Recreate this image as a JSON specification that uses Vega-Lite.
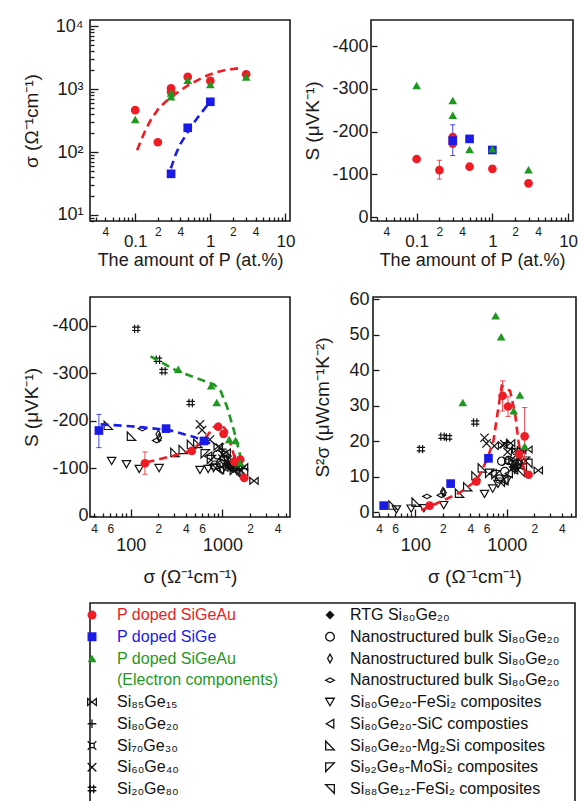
{
  "$schema": "https://vega.github.io/schema/vega-lite/v6.json",
  "padding": {"left": 21, "top": 16, "right": 0, "bottom": 0},
  "config": {
    "font": "Liberation Sans",
    "view": {"stroke": "#1a1a1a", "strokeWidth": 1.6},
    "axis": {"grid": false, "domain": false, "tickColor": "#1a1a1a", "tickWidth": 1.3, "labelColor": "#1a1a1a", "titleColor": "#1a1a1a", "labelFont": "Liberation Sans", "titleFont": "Liberation Sans", "titleFontWeight": "normal", "labelOverlap": false, "labelFlush": false, "labelBound": false, "titleFontSize": 19}
  },
  "datasets": {
    "samples": [
      {"cat": "SiGeAu", "P": 0.1, "sigma": 464, "S": -136, "PF": 8.7},
      {"cat": "SiGeAu", "P": 0.2, "sigma": 143, "S": -110, "PF": 1.9},
      {"cat": "SiGeAu", "P": 0.3, "sigma": 1030, "S": -172, "PF": 29.8},
      {"cat": "SiGeAu", "P": 0.3, "sigma": 900, "S": -187, "PF": 32.8},
      {"cat": "SiGeAu", "P": 0.3, "sigma": null, "S": -179, "PF": null},
      {"cat": "SiGeAu", "P": 0.5, "sigma": 1567, "S": -118, "PF": 21.4},
      {"cat": "SiGeAu", "P": 1, "sigma": 1355, "S": -113, "PF": 16.4},
      {"cat": "SiGeAu", "P": 3, "sigma": 1730, "S": -79, "PF": 10.6},
      {"cat": "SiGe", "P": 0.3, "sigma": 45, "S": -179, "PF": 1.9},
      {"cat": "SiGe", "P": 0.5, "sigma": 243, "S": -183, "PF": 8.1},
      {"cat": "SiGe", "P": 1, "sigma": 630, "S": -157, "PF": 15.2},
      {"cat": "SiGeAuE", "P": 0.1, "sigma": 330, "S": -308, "PF": 30.9},
      {"cat": "SiGeAuE", "P": 0.3, "sigma": 755, "S": -273, "PF": 55.3},
      {"cat": "SiGeAuE", "P": 0.3, "sigma": 867, "S": -238, "PF": 49.4},
      {"cat": "SiGeAuE", "P": 0.5, "sigma": 1390, "S": -158, "PF": 33},
      {"cat": "SiGeAuE", "P": 1, "sigma": 1188, "S": -160, "PF": 28.6},
      {"cat": "SiGeAuE", "P": 3, "sigma": 1567, "S": -111, "PF": 18.6}
    ],
    "errs": [
      {"panel": "b", "cat": "SiGeAu", "P": 0.2, "S": -133, "hi": -89},
      {"panel": "b", "cat": "SiGe", "P": 0.3, "S": -216, "hi": -144},
      {"panel": "c", "cat": "SiGe", "sigma": 45, "S": -213, "hi": -143},
      {"panel": "c", "cat": "SiGeAu", "sigma": 143, "S": -134, "hi": -87},
      {"panel": "d", "cat": "SiGeAu", "sigma": 900, "PF": 28.5, "hi": 37},
      {"panel": "d", "cat": "SiGeAu", "sigma": 1030, "PF": 27, "hi": 32.5},
      {"panel": "d", "cat": "SiGeAu", "sigma": 1567, "PF": 13.5, "hi": 29.5}
    ],
    "fits": [
      {"panel": "a", "cat": "SiGeAu", "P": 0.106, "sigma": 107},
      {"panel": "a", "cat": "SiGeAu", "P": 0.12, "sigma": 155},
      {"panel": "a", "cat": "SiGeAu", "P": 0.137, "sigma": 224},
      {"panel": "a", "cat": "SiGeAu", "P": 0.16, "sigma": 320},
      {"panel": "a", "cat": "SiGeAu", "P": 0.205, "sigma": 494},
      {"panel": "a", "cat": "SiGeAu", "P": 0.25, "sigma": 620},
      {"panel": "a", "cat": "SiGeAu", "P": 0.306, "sigma": 755},
      {"panel": "a", "cat": "SiGeAu", "P": 0.4, "sigma": 960},
      {"panel": "a", "cat": "SiGeAu", "P": 0.51, "sigma": 1157},
      {"panel": "a", "cat": "SiGeAu", "P": 0.7, "sigma": 1420},
      {"panel": "a", "cat": "SiGeAu", "P": 0.93, "sigma": 1668},
      {"panel": "a", "cat": "SiGeAu", "P": 1.2, "sigma": 1850},
      {"panel": "a", "cat": "SiGeAu", "P": 1.54, "sigma": 2003},
      {"panel": "a", "cat": "SiGeAu", "P": 2.0, "sigma": 2100},
      {"panel": "a", "cat": "SiGeAu", "P": 2.69, "sigma": 2180},
      {"panel": "a", "cat": "SiGe", "P": 0.298, "sigma": 55},
      {"panel": "a", "cat": "SiGe", "P": 0.35, "sigma": 95},
      {"panel": "a", "cat": "SiGe", "P": 0.4, "sigma": 135},
      {"panel": "a", "cat": "SiGe", "P": 0.459, "sigma": 175},
      {"panel": "a", "cat": "SiGe", "P": 0.55, "sigma": 250},
      {"panel": "a", "cat": "SiGe", "P": 0.69, "sigma": 363},
      {"panel": "a", "cat": "SiGe", "P": 0.85, "sigma": 500},
      {"panel": "a", "cat": "SiGe", "P": 1.01, "sigma": 630},
      {"panel": "c", "cat": "SiGe", "sigma": 47, "S": -192},
      {"panel": "c", "cat": "SiGe", "sigma": 100, "S": -188},
      {"panel": "c", "cat": "SiGe", "sigma": 262, "S": -180},
      {"panel": "c", "cat": "SiGe", "sigma": 500, "S": -165},
      {"panel": "c", "cat": "SiGe", "sigma": 658, "S": -155},
      {"panel": "c", "cat": "SiGe", "sigma": 810, "S": -150},
      {"panel": "c", "cat": "SiGeAu", "sigma": 149, "S": -112},
      {"panel": "c", "cat": "SiGeAu", "sigma": 292, "S": -126},
      {"panel": "c", "cat": "SiGeAu", "sigma": 443, "S": -136},
      {"panel": "c", "cat": "SiGeAu", "sigma": 619, "S": -157},
      {"panel": "c", "cat": "SiGeAu", "sigma": 795, "S": -185},
      {"panel": "c", "cat": "SiGeAu", "sigma": 942, "S": -195},
      {"panel": "c", "cat": "SiGeAu", "sigma": 1114, "S": -178},
      {"panel": "c", "cat": "SiGeAu", "sigma": 1263, "S": -143},
      {"panel": "c", "cat": "SiGeAu", "sigma": 1432, "S": -108},
      {"panel": "c", "cat": "SiGeAuE", "sigma": 165, "S": -335},
      {"panel": "c", "cat": "SiGeAuE", "sigma": 323, "S": -304},
      {"panel": "c", "cat": "SiGeAuE", "sigma": 600, "S": -285},
      {"panel": "c", "cat": "SiGeAuE", "sigma": 809, "S": -276},
      {"panel": "c", "cat": "SiGeAuE", "sigma": 957, "S": -262},
      {"panel": "c", "cat": "SiGeAuE", "sigma": 1133, "S": -227},
      {"panel": "c", "cat": "SiGeAuE", "sigma": 1339, "S": -178},
      {"panel": "c", "cat": "SiGeAuE", "sigma": 1585, "S": -122},
      {"panel": "d", "cat": "SiGeAu", "sigma": 116, "PF": 0.6},
      {"panel": "d", "cat": "SiGeAu", "sigma": 200, "PF": 3.3},
      {"panel": "d", "cat": "SiGeAu", "sigma": 309, "PF": 5.6},
      {"panel": "d", "cat": "SiGeAu", "sigma": 462, "PF": 8.9},
      {"panel": "d", "cat": "SiGeAu", "sigma": 512, "PF": 10.8},
      {"panel": "d", "cat": "SiGeAu", "sigma": 621, "PF": 15.5},
      {"panel": "d", "cat": "SiGeAu", "sigma": 714, "PF": 20.1},
      {"panel": "d", "cat": "SiGeAu", "sigma": 809, "PF": 29.5},
      {"panel": "d", "cat": "SiGeAu", "sigma": 881, "PF": 35.6},
      {"panel": "d", "cat": "SiGeAu", "sigma": 1086, "PF": 34.2},
      {"panel": "d", "cat": "SiGeAu", "sigma": 1233, "PF": 27.7},
      {"panel": "d", "cat": "SiGeAu", "sigma": 1340, "PF": 20.1},
      {"panel": "d", "cat": "SiGeAu", "sigma": 1459, "PF": 13.6},
      {"panel": "d", "cat": "SiGeAu", "sigma": 1653, "PF": 10.8}
    ],
    "refs": [
      {"cat": "Si85Ge15", "sigma": 2210, "S": -73, "PF": 11.8},
      {"cat": "Si85Ge15", "sigma": 1700, "S": -102, "PF": 17.7},
      {"cat": "Si85Ge15", "sigma": 1450, "S": -110, "PF": 17.5},
      {"cat": "Si85Ge15", "sigma": 1250, "S": -118, "PF": 17.4},
      {"cat": "Si85Ge15", "sigma": 1100, "S": -133, "PF": 19.5},
      {"cat": "Si85Ge15", "sigma": 900, "S": -145, "PF": 18.9},
      {"cat": "Si80Ge20", "sigma": 1000, "S": -140, "PF": 19.6},
      {"cat": "Si80Ge20", "sigma": 1150, "S": -125, "PF": 18},
      {"cat": "Si80Ge20", "sigma": 1300, "S": -112, "PF": 16.3},
      {"cat": "Si70Ge30", "sigma": 1200, "S": -108, "PF": 14},
      {"cat": "Si70Ge30", "sigma": 1400, "S": -100, "PF": 14},
      {"cat": "Si70Ge30", "sigma": 1000, "S": -120, "PF": 14.4},
      {"cat": "Si60Ge40", "sigma": 570, "S": -192, "PF": 21},
      {"cat": "Si60Ge40", "sigma": 600, "S": -180, "PF": 19.4},
      {"cat": "Si60Ge40", "sigma": 730, "S": -160, "PF": 18.7},
      {"cat": "Si60Ge40", "sigma": 940, "S": -143, "PF": 19.2},
      {"cat": "Si60Ge40", "sigma": 1020, "S": -129, "PF": 17},
      {"cat": "Si60Ge40", "sigma": 1110, "S": -115, "PF": 14.7},
      {"cat": "Si60Ge40", "sigma": 1300, "S": -105, "PF": 14.3},
      {"cat": "Si20Ge80", "sigma": 115, "S": -393, "PF": 17.8},
      {"cat": "Si20Ge80", "sigma": 198, "S": -328, "PF": 21.3},
      {"cat": "Si20Ge80", "sigma": 228, "S": -304, "PF": 21.1},
      {"cat": "Si20Ge80", "sigma": 451, "S": -237, "PF": 25.3},
      {"cat": "RTG", "sigma": 1163, "S": -105, "PF": 12.8},
      {"cat": "RTG", "sigma": 1250, "S": -100, "PF": 12.5},
      {"cat": "NanoO", "sigma": 830, "S": -106, "PF": 9.4},
      {"cat": "NanoO", "sigma": 950, "S": -110, "PF": 11.5},
      {"cat": "NanoO", "sigma": 1050, "S": -118, "PF": 14.6},
      {"cat": "NanoO", "sigma": 880, "S": -128, "PF": 14.4},
      {"cat": "NanoD", "sigma": 200, "S": -171, "PF": 5.85},
      {"cat": "NanoD", "sigma": 205, "S": -164, "PF": 5.5},
      {"cat": "NanoF", "sigma": 134, "S": -183, "PF": 4.5},
      {"cat": "NanoF", "sigma": 192, "S": -158, "PF": 4.8},
      {"cat": "FeSi2", "sigma": 62, "S": -115, "PF": 0.82},
      {"cat": "FeSi2", "sigma": 90, "S": -108, "PF": 1.05},
      {"cat": "FeSi2", "sigma": 124, "S": -98, "PF": 1.19},
      {"cat": "FeSi2", "sigma": 204, "S": -100, "PF": 2.04},
      {"cat": "FeSi2", "sigma": 570, "S": -96, "PF": 5.2},
      {"cat": "FeSi2", "sigma": 700, "S": -98, "PF": 6.7},
      {"cat": "FeSi2", "sigma": 800, "S": -100, "PF": 8},
      {"cat": "FeSi2", "sigma": 1000, "S": -95, "PF": 9},
      {"cat": "SiC", "sigma": 942, "S": -97, "PF": 8.9},
      {"cat": "SiC", "sigma": 1200, "S": -100, "PF": 12},
      {"cat": "SiC", "sigma": 1300, "S": -105, "PF": 14.3},
      {"cat": "SiC", "sigma": 700, "S": -125, "PF": 10.9},
      {"cat": "SiC", "sigma": 1050, "S": -102, "PF": 10.9},
      {"cat": "SiC", "sigma": 1500, "S": -92, "PF": 12.7},
      {"cat": "Mg2Si", "sigma": 57, "S": -190, "PF": 2.06},
      {"cat": "Mg2Si", "sigma": 102, "S": -167, "PF": 2.85},
      {"cat": "Mg2Si", "sigma": 304, "S": -133, "PF": 5.4},
      {"cat": "Mg2Si", "sigma": 374, "S": -139, "PF": 7.2},
      {"cat": "Mg2Si", "sigma": 460, "S": -150, "PF": 10.3},
      {"cat": "Mg2Si", "sigma": 540, "S": -152, "PF": 12.5},
      {"cat": "MoSi2", "sigma": 650, "S": -130, "PF": 11},
      {"cat": "MoSi2", "sigma": 760, "S": -118, "PF": 10.6},
      {"cat": "MoSi2", "sigma": 1350, "S": -95, "PF": 12.2},
      {"cat": "MoSi2", "sigma": 1600, "S": -95, "PF": 14.4},
      {"cat": "Si88FeSi2", "sigma": 1400, "S": -90, "PF": 11.3},
      {"cat": "Si88FeSi2", "sigma": 850, "S": -100, "PF": 8.5},
      {"cat": "Si88FeSi2", "sigma": 1700, "S": -90, "PF": 13.8}
    ],
    "legend": [
      {"c": 0, "r": 0, "cat": "SiGeAu", "text": "P doped SiGeAu", "sym": 1},
      {"c": 0, "r": 1, "cat": "SiGe", "text": "P doped SiGe", "sym": 1},
      {"c": 0, "r": 2, "cat": "SiGeAuE", "text": "P doped SiGeAu", "sym": 1},
      {"c": 0, "r": 3, "cat": "SiGeAuE", "text": "(Electron components)", "sym": 0},
      {"c": 0, "r": 4, "cat": "Si85Ge15", "text": "Si₈₅Ge₁₅", "sym": 1},
      {"c": 0, "r": 5, "cat": "Si80Ge20", "text": "Si₈₀Ge₂₀", "sym": 1},
      {"c": 0, "r": 6, "cat": "Si70Ge30", "text": "Si₇₀Ge₃₀", "sym": 1},
      {"c": 0, "r": 7, "cat": "Si60Ge40", "text": "Si₆₀Ge₄₀", "sym": 1},
      {"c": 0, "r": 8, "cat": "Si20Ge80", "text": "Si₂₀Ge₈₀", "sym": 1},
      {"c": 1, "r": 0, "cat": "RTG", "text": "RTG Si₈₀Ge₂₀", "sym": 1},
      {"c": 1, "r": 1, "cat": "NanoO", "text": "Nanostructured bulk Si₈₀Ge₂₀", "sym": 1},
      {"c": 1, "r": 2, "cat": "NanoD", "text": "Nanostructured bulk Si₈₀Ge₂₀", "sym": 1},
      {"c": 1, "r": 3, "cat": "NanoF", "text": "Nanostructured bulk Si₈₀Ge₂₀", "sym": 1},
      {"c": 1, "r": 4, "cat": "FeSi2", "text": "Si₈₀Ge₂₀-FeSi₂ composites", "sym": 1},
      {"c": 1, "r": 5, "cat": "SiC", "text": "Si₈₀Ge₂₀-SiC composties", "sym": 1},
      {"c": 1, "r": 6, "cat": "Mg2Si", "text": "Si₈₀Ge₂₀-Mg₂Si composites", "sym": 1},
      {"c": 1, "r": 7, "cat": "MoSi2", "text": "Si₉₂Ge₈-MoSi₂ composites", "sym": 1},
      {"c": 1, "r": 8, "cat": "Si88FeSi2", "text": "Si₈₈Ge₁₂-FeSi₂ composites", "sym": 1}
    ]
  },
  "vconcat": [
    {
      "vconcat": [
        {
          "hconcat": [
            {
              "width": 200, "height": 201,
              "encoding": {
                "x": {"field": "P", "type": "quantitative", "scale": {"type": "log", "domain": [0.025, 11.5], "nice": false},
                  "axis": {"title": "The amount of P (at.%)", "titleFontSize": 18, "titlePadding": 2,
                    "values": [0.03,0.04,0.05,0.06,0.07,0.08,0.09,0.1,0.2,0.3,0.4,0.5,0.6,0.7,0.8,0.9,1,2,3,4,5,6,7,8,9,10],
                    "labelExpr": "datum.value == 0.1 ? '0.1' : datum.value == 1 ? '1' : datum.value == 10 ? '10' : (datum.value == 0.04 || datum.value == 0.4 || datum.value == 4) ? '4' : (datum.value == 0.2 || datum.value == 2) ? '2' : ''",
                    "tickSize": {"condition": {"test": "datum.value == 0.1 || datum.value == 1 || datum.value == 10", "value": -8}, "value": -4},
                    "labelFontSize": {"condition": {"test": "datum.value == 0.1 || datum.value == 1 || datum.value == 10", "value": 17}, "value": 12},
                    "labelPadding": {"condition": {"test": "datum.value == 0.1 || datum.value == 1 || datum.value == 10", "value": 20}, "value": 9}}},
                "y": {"field": "sigma", "type": "quantitative", "scale": {"type": "log", "domain": [8, 12600], "nice": false},
                  "axis": {"title": "σ (Ω⁻¹cm⁻¹)", "titlePadding": 14, "labelFontSize": 18,
                    "values": [8,9,10,20,30,40,50,60,70,80,90,100,200,300,400,500,600,700,800,900,1000,2000,3000,4000,5000,6000,7000,8000,9000,10000],
                    "labelExpr": "datum.value == 10 ? '10¹' : datum.value == 100 ? '10²' : datum.value == 1000 ? '10³' : datum.value == 10000 ? '10⁴' : ''",
                    "tickSize": {"condition": {"test": "datum.value == 10 || datum.value == 100 || datum.value == 1000 || datum.value == 10000", "value": -8}, "value": -4},
                    "labelPadding": {"condition": {"test": "datum.value == 10 || datum.value == 100 || datum.value == 1000 || datum.value == 10000", "value": 15}, "value": 11}}},
                "color": {"field": "cat", "type": "nominal", "legend": null,
                  "scale": {"domain": ["SiGeAu","SiGe","SiGeAuE","Si85Ge15","Si80Ge20","Si70Ge30","Si60Ge40","Si20Ge80","RTG","NanoO","NanoD","NanoF","FeSi2","SiC","Mg2Si","MoSi2","Si88FeSi2"],
                    "range": ["#ee1c25","#1b1be8","#1f981f","#111111","#111111","#111111","#111111","#111111","#111111","#111111","#111111","#111111","#111111","#111111","#111111","#111111","#111111"]}}
              },
              "layer": [
                {"data": {"name": "fits"}, "transform": [{"filter": "datum.panel == 'a'"}], "mark": {"type": "line", "strokeDash": [8, 5], "strokeWidth": 2.6}},
                {"data": {"name": "samples"}, "mark": {"type": "point", "filled": true, "opacity": 1, "size": 75},
                  "encoding": {"shape": {"field": "cat", "type": "nominal", "legend": null,
                    "scale": {"domain": ["SiGeAu","SiGe","SiGeAuE","Si85Ge15","Si80Ge20","Si70Ge30","Si60Ge40","Si20Ge80","RTG","NanoO","NanoD","NanoF","FeSi2","SiC","Mg2Si","MoSi2","Si88FeSi2"],
                      "range": ["circle","square","triangle-up","M-1,-0.8L1,0.8L1,-0.8L-1,0.8Z","M-1,0L1,0M0,-1L0,1","M-0.5,-0.5L0.5,-0.5L0.5,0.5L-0.5,0.5Z M-0.5,-0.5L-1,-1 M0.5,-0.5L1,-1 M0.5,0.5L1,1 M-0.5,0.5L-1,1","M-1,-1L1,1M1,-1L-1,1","M-0.4,-1L-0.4,1M0.4,-1L0.4,1M-1,-0.4L1,-0.4M-1,0.4L1,0.4","diamond","circle","M0,-1L0.55,0L0,1L-0.55,0Z","M-1,0L0,-0.55L1,0L0,0.55Z","triangle-down","triangle-left","M-1,-1L-1,1L1,1Z","M-1,-1L1,-1L-1,1Z","M-1,-1L1,-1L1,1Z"]}}}},
                {"data": {"values": [{}]}, "mark": {"type": "text", "fontSize": 20}, "encoding": {"x": {"datum": 5.5}, "y": {"datum": 8000}, "text": {"value": "(a)"}, "color": {"value": "#111111"}}}
              ]
            },
            {
              "width": 202, "height": 201,
              "encoding": {
                "x": {"field": "P", "type": "quantitative", "scale": {"type": "log", "domain": [0.025, 11.6], "nice": false},
                  "axis": {"title": "The amount of P (at.%)", "titleFontSize": 18, "titlePadding": 2,
                    "values": [0.03,0.04,0.05,0.06,0.07,0.08,0.09,0.1,0.2,0.3,0.4,0.5,0.6,0.7,0.8,0.9,1,2,3,4,5,6,7,8,9,10],
                    "labelExpr": "datum.value == 0.1 ? '0.1' : datum.value == 1 ? '1' : datum.value == 10 ? '10' : (datum.value == 0.04 || datum.value == 0.4 || datum.value == 4) ? '4' : (datum.value == 0.2 || datum.value == 2) ? '2' : ''",
                    "tickSize": {"condition": {"test": "datum.value == 0.1 || datum.value == 1 || datum.value == 10", "value": -8}, "value": -4},
                    "labelFontSize": {"condition": {"test": "datum.value == 0.1 || datum.value == 1 || datum.value == 10", "value": 17}, "value": 12},
                    "labelPadding": {"condition": {"test": "datum.value == 0.1 || datum.value == 1 || datum.value == 10", "value": 20}, "value": 9}}},
                "y": {"field": "S", "type": "quantitative", "scale": {"domain": [-461, 9], "reverse": true, "nice": false, "zero": false},
                  "axis": {"title": "S (μVK⁻¹)", "titlePadding": 9, "labelFontSize": 18, "values": [0, -100, -200, -300, -400],
                    "labelExpr": "datum.value < 0 ? '-' + abs(datum.value) : '' + datum.value", "tickSize": -6, "labelPadding": 9}},
                "color": {"field": "cat", "type": "nominal", "legend": null,
                  "scale": {"domain": ["SiGeAu","SiGe","SiGeAuE","Si85Ge15","Si80Ge20","Si70Ge30","Si60Ge40","Si20Ge80","RTG","NanoO","NanoD","NanoF","FeSi2","SiC","Mg2Si","MoSi2","Si88FeSi2"],
                    "range": ["#ee1c25","#1b1be8","#1f981f","#111111","#111111","#111111","#111111","#111111","#111111","#111111","#111111","#111111","#111111","#111111","#111111","#111111","#111111"]}}
              },
              "layer": [
                {"data": {"name": "errs"}, "transform": [{"filter": "datum.panel == 'b'"}], "mark": {"type": "errorbar", "ticks": true, "opacity": 0.8}, "encoding": {"y2": {"field": "hi"}}},
                {"data": {"name": "samples"}, "mark": {"type": "point", "filled": true, "opacity": 1, "size": 75},
                  "encoding": {"shape": {"field": "cat", "type": "nominal", "legend": null,
                    "scale": {"domain": ["SiGeAu","SiGe","SiGeAuE","Si85Ge15","Si80Ge20","Si70Ge30","Si60Ge40","Si20Ge80","RTG","NanoO","NanoD","NanoF","FeSi2","SiC","Mg2Si","MoSi2","Si88FeSi2"],
                      "range": ["circle","square","triangle-up","M-1,-0.8L1,0.8L1,-0.8L-1,0.8Z","M-1,0L1,0M0,-1L0,1","M-0.5,-0.5L0.5,-0.5L0.5,0.5L-0.5,0.5Z M-0.5,-0.5L-1,-1 M0.5,-0.5L1,-1 M0.5,0.5L1,1 M-0.5,0.5L-1,1","M-1,-1L1,1M1,-1L-1,1","M-0.4,-1L-0.4,1M0.4,-1L0.4,1M-1,-0.4L1,-0.4M-1,0.4L1,0.4","diamond","circle","M0,-1L0.55,0L0,1L-0.55,0Z","M-1,0L0,-0.55L1,0L0,0.55Z","triangle-down","triangle-left","M-1,-1L-1,1L1,1Z","M-1,-1L1,-1L-1,1Z","M-1,-1L1,-1L1,1Z"]}}}},
                {"data": {"values": [{}]}, "mark": {"type": "text", "fontSize": 20}, "encoding": {"x": {"datum": 6.4}, "y": {"datum": -414}, "text": {"value": "(b)"}, "color": {"value": "#111111"}}}
              ]
            }
          ],
          "spacing": 7
        },
        {
          "hconcat": [
            {
              "width": 200, "height": 220,
              "encoding": {
                "x": {"field": "sigma", "type": "quantitative", "scale": {"type": "log", "domain": [36, 5460], "nice": false},
                  "axis": {"title": "σ (Ω⁻¹cm⁻¹)", "titlePadding": 13,
                    "values": [40,50,60,70,80,90,100,200,300,400,500,600,700,800,900,1000,2000,3000,4000,5000],
                    "labelExpr": "datum.value == 100 ? '100' : datum.value == 1000 ? '1000' : (datum.value == 40 || datum.value == 400 || datum.value == 4000) ? '4' : (datum.value == 60 || datum.value == 600) ? '6' : (datum.value == 200 || datum.value == 2000) ? '2' : ''",
                    "tickSize": {"condition": {"test": "datum.value == 100 || datum.value == 1000", "value": -8}, "value": -4},
                    "labelFontSize": {"condition": {"test": "datum.value == 100 || datum.value == 1000", "value": 18}, "value": 12},
                    "labelPadding": {"condition": {"test": "datum.value == 100 || datum.value == 1000", "value": 27}, "value": 10}}},
                "y": {"field": "S", "type": "quantitative", "scale": {"domain": [-460, 3], "reverse": true, "nice": false, "zero": false},
                  "axis": {"title": "S (μVK⁻¹)", "titlePadding": 10, "labelFontSize": 18, "values": [0, -100, -200, -300, -400],
                    "labelExpr": "datum.value < 0 ? '-' + abs(datum.value) : '' + datum.value", "tickSize": -6, "labelPadding": 8}},
                "color": {"field": "cat", "type": "nominal", "legend": null,
                  "scale": {"domain": ["SiGeAu","SiGe","SiGeAuE","Si85Ge15","Si80Ge20","Si70Ge30","Si60Ge40","Si20Ge80","RTG","NanoO","NanoD","NanoF","FeSi2","SiC","Mg2Si","MoSi2","Si88FeSi2"],
                    "range": ["#ee1c25","#1b1be8","#1f981f","#111111","#111111","#111111","#111111","#111111","#111111","#111111","#111111","#111111","#111111","#111111","#111111","#111111","#111111"]}}
              },
              "layer": [
                {"data": {"name": "refs"}, "transform": [{"filter": "datum.cat != 'RTG'"}], "mark": {"type": "point", "filled": false, "opacity": 1, "size": 70, "strokeWidth": 1.2},
                  "encoding": {"shape": {"field": "cat", "type": "nominal", "legend": null,
                    "scale": {"domain": ["SiGeAu","SiGe","SiGeAuE","Si85Ge15","Si80Ge20","Si70Ge30","Si60Ge40","Si20Ge80","RTG","NanoO","NanoD","NanoF","FeSi2","SiC","Mg2Si","MoSi2","Si88FeSi2"],
                      "range": ["circle","square","triangle-up","M-1,-0.8L1,0.8L1,-0.8L-1,0.8Z","M-1,0L1,0M0,-1L0,1","M-0.5,-0.5L0.5,-0.5L0.5,0.5L-0.5,0.5Z M-0.5,-0.5L-1,-1 M0.5,-0.5L1,-1 M0.5,0.5L1,1 M-0.5,0.5L-1,1","M-1,-1L1,1M1,-1L-1,1","M-0.4,-1L-0.4,1M0.4,-1L0.4,1M-1,-0.4L1,-0.4M-1,0.4L1,0.4","diamond","circle","M0,-1L0.55,0L0,1L-0.55,0Z","M-1,0L0,-0.55L1,0L0,0.55Z","triangle-down","triangle-left","M-1,-1L-1,1L1,1Z","M-1,-1L1,-1L-1,1Z","M-1,-1L1,-1L1,1Z"]}}}},
                {"data": {"name": "refs"}, "transform": [{"filter": "datum.cat == 'RTG'"}], "mark": {"type": "point", "filled": true, "opacity": 1, "size": 70},
                  "encoding": {"shape": {"field": "cat", "type": "nominal", "legend": null,
                    "scale": {"domain": ["SiGeAu","SiGe","SiGeAuE","Si85Ge15","Si80Ge20","Si70Ge30","Si60Ge40","Si20Ge80","RTG","NanoO","NanoD","NanoF","FeSi2","SiC","Mg2Si","MoSi2","Si88FeSi2"],
                      "range": ["circle","square","triangle-up","M-1,-0.8L1,0.8L1,-0.8L-1,0.8Z","M-1,0L1,0M0,-1L0,1","M-0.5,-0.5L0.5,-0.5L0.5,0.5L-0.5,0.5Z M-0.5,-0.5L-1,-1 M0.5,-0.5L1,-1 M0.5,0.5L1,1 M-0.5,0.5L-1,1","M-1,-1L1,1M1,-1L-1,1","M-0.4,-1L-0.4,1M0.4,-1L0.4,1M-1,-0.4L1,-0.4M-1,0.4L1,0.4","diamond","circle","M0,-1L0.55,0L0,1L-0.55,0Z","M-1,0L0,-0.55L1,0L0,0.55Z","triangle-down","triangle-left","M-1,-1L-1,1L1,1Z","M-1,-1L1,-1L-1,1Z","M-1,-1L1,-1L1,1Z"]}}}},
                {"data": {"name": "fits"}, "transform": [{"filter": "datum.panel == 'c'"}], "mark": {"type": "line", "strokeDash": [8, 5], "strokeWidth": 2.6}},
                {"data": {"name": "errs"}, "transform": [{"filter": "datum.panel == 'c'"}], "mark": {"type": "errorbar", "ticks": true, "opacity": 0.8}, "encoding": {"y2": {"field": "hi"}}},
                {"data": {"name": "samples"}, "mark": {"type": "point", "filled": true, "opacity": 1, "size": 75},
                  "encoding": {"shape": {"field": "cat", "type": "nominal", "legend": null,
                    "scale": {"domain": ["SiGeAu","SiGe","SiGeAuE","Si85Ge15","Si80Ge20","Si70Ge30","Si60Ge40","Si20Ge80","RTG","NanoO","NanoD","NanoF","FeSi2","SiC","Mg2Si","MoSi2","Si88FeSi2"],
                      "range": ["circle","square","triangle-up","M-1,-0.8L1,0.8L1,-0.8L-1,0.8Z","M-1,0L1,0M0,-1L0,1","M-0.5,-0.5L0.5,-0.5L0.5,0.5L-0.5,0.5Z M-0.5,-0.5L-1,-1 M0.5,-0.5L1,-1 M0.5,0.5L1,1 M-0.5,0.5L-1,1","M-1,-1L1,1M1,-1L-1,1","M-0.4,-1L-0.4,1M0.4,-1L0.4,1M-1,-0.4L1,-0.4M-1,0.4L1,0.4","diamond","circle","M0,-1L0.55,0L0,1L-0.55,0Z","M-1,0L0,-0.55L1,0L0,0.55Z","triangle-down","triangle-left","M-1,-1L-1,1L1,1Z","M-1,-1L1,-1L-1,1Z","M-1,-1L1,-1L1,1Z"]}}}},
                {"data": {"values": [{}]}, "mark": {"type": "text", "fontSize": 20}, "encoding": {"x": {"datum": 3450}, "y": {"datum": -394}, "text": {"value": "(c)"}, "color": {"value": "#111111"}}}
              ]
            },
            {
              "width": 203, "height": 220,
              "encoding": {
                "x": {"field": "sigma", "type": "quantitative", "scale": {"type": "log", "domain": [34.4, 5710], "nice": false},
                  "axis": {"title": "σ (Ω⁻¹cm⁻¹)", "titlePadding": 13,
                    "values": [40,50,60,70,80,90,100,200,300,400,500,600,700,800,900,1000,2000,3000,4000,5000],
                    "labelExpr": "datum.value == 100 ? '100' : datum.value == 1000 ? '1000' : (datum.value == 40 || datum.value == 400 || datum.value == 4000) ? '4' : (datum.value == 60 || datum.value == 600) ? '6' : (datum.value == 200 || datum.value == 2000) ? '2' : ''",
                    "tickSize": {"condition": {"test": "datum.value == 100 || datum.value == 1000", "value": -8}, "value": -4},
                    "labelFontSize": {"condition": {"test": "datum.value == 100 || datum.value == 1000", "value": 18}, "value": 12},
                    "labelPadding": {"condition": {"test": "datum.value == 100 || datum.value == 1000", "value": 27}, "value": 10}}},
                "y": {"field": "PF", "type": "quantitative", "scale": {"domain": [-1.3, 60.6], "nice": false, "zero": false},
                  "axis": {"title": "S²σ (μWcm⁻¹K⁻²)", "titlePadding": 16, "labelFontSize": 18, "values": [0, 10, 20, 30, 40, 50, 60],
                    "tickSize": -6, "labelPadding": 10}},
                "color": {"field": "cat", "type": "nominal", "legend": null,
                  "scale": {"domain": ["SiGeAu","SiGe","SiGeAuE","Si85Ge15","Si80Ge20","Si70Ge30","Si60Ge40","Si20Ge80","RTG","NanoO","NanoD","NanoF","FeSi2","SiC","Mg2Si","MoSi2","Si88FeSi2"],
                    "range": ["#ee1c25","#1b1be8","#1f981f","#111111","#111111","#111111","#111111","#111111","#111111","#111111","#111111","#111111","#111111","#111111","#111111","#111111","#111111"]}}
              },
              "layer": [
                {"data": {"name": "refs"}, "transform": [{"filter": "datum.cat != 'RTG'"}], "mark": {"type": "point", "filled": false, "opacity": 1, "size": 70, "strokeWidth": 1.2},
                  "encoding": {"shape": {"field": "cat", "type": "nominal", "legend": null,
                    "scale": {"domain": ["SiGeAu","SiGe","SiGeAuE","Si85Ge15","Si80Ge20","Si70Ge30","Si60Ge40","Si20Ge80","RTG","NanoO","NanoD","NanoF","FeSi2","SiC","Mg2Si","MoSi2","Si88FeSi2"],
                      "range": ["circle","square","triangle-up","M-1,-0.8L1,0.8L1,-0.8L-1,0.8Z","M-1,0L1,0M0,-1L0,1","M-0.5,-0.5L0.5,-0.5L0.5,0.5L-0.5,0.5Z M-0.5,-0.5L-1,-1 M0.5,-0.5L1,-1 M0.5,0.5L1,1 M-0.5,0.5L-1,1","M-1,-1L1,1M1,-1L-1,1","M-0.4,-1L-0.4,1M0.4,-1L0.4,1M-1,-0.4L1,-0.4M-1,0.4L1,0.4","diamond","circle","M0,-1L0.55,0L0,1L-0.55,0Z","M-1,0L0,-0.55L1,0L0,0.55Z","triangle-down","triangle-left","M-1,-1L-1,1L1,1Z","M-1,-1L1,-1L-1,1Z","M-1,-1L1,-1L1,1Z"]}}}},
                {"data": {"name": "refs"}, "transform": [{"filter": "datum.cat == 'RTG'"}], "mark": {"type": "point", "filled": true, "opacity": 1, "size": 70},
                  "encoding": {"shape": {"field": "cat", "type": "nominal", "legend": null,
                    "scale": {"domain": ["SiGeAu","SiGe","SiGeAuE","Si85Ge15","Si80Ge20","Si70Ge30","Si60Ge40","Si20Ge80","RTG","NanoO","NanoD","NanoF","FeSi2","SiC","Mg2Si","MoSi2","Si88FeSi2"],
                      "range": ["circle","square","triangle-up","M-1,-0.8L1,0.8L1,-0.8L-1,0.8Z","M-1,0L1,0M0,-1L0,1","M-0.5,-0.5L0.5,-0.5L0.5,0.5L-0.5,0.5Z M-0.5,-0.5L-1,-1 M0.5,-0.5L1,-1 M0.5,0.5L1,1 M-0.5,0.5L-1,1","M-1,-1L1,1M1,-1L-1,1","M-0.4,-1L-0.4,1M0.4,-1L0.4,1M-1,-0.4L1,-0.4M-1,0.4L1,0.4","diamond","circle","M0,-1L0.55,0L0,1L-0.55,0Z","M-1,0L0,-0.55L1,0L0,0.55Z","triangle-down","triangle-left","M-1,-1L-1,1L1,1Z","M-1,-1L1,-1L-1,1Z","M-1,-1L1,-1L1,1Z"]}}}},
                {"data": {"name": "fits"}, "transform": [{"filter": "datum.panel == 'd'"}], "mark": {"type": "line", "strokeDash": [8, 5], "strokeWidth": 2.6}},
                {"data": {"name": "errs"}, "transform": [{"filter": "datum.panel == 'd'"}], "mark": {"type": "errorbar", "ticks": true, "opacity": 0.8}, "encoding": {"y2": {"field": "hi"}}},
                {"data": {"name": "samples"}, "mark": {"type": "point", "filled": true, "opacity": 1, "size": 75},
                  "encoding": {"shape": {"field": "cat", "type": "nominal", "legend": null,
                    "scale": {"domain": ["SiGeAu","SiGe","SiGeAuE","Si85Ge15","Si80Ge20","Si70Ge30","Si60Ge40","Si20Ge80","RTG","NanoO","NanoD","NanoF","FeSi2","SiC","Mg2Si","MoSi2","Si88FeSi2"],
                      "range": ["circle","square","triangle-up","M-1,-0.8L1,0.8L1,-0.8L-1,0.8Z","M-1,0L1,0M0,-1L0,1","M-0.5,-0.5L0.5,-0.5L0.5,0.5L-0.5,0.5Z M-0.5,-0.5L-1,-1 M0.5,-0.5L1,-1 M0.5,0.5L1,1 M-0.5,0.5L-1,1","M-1,-1L1,1M1,-1L-1,1","M-0.4,-1L-0.4,1M0.4,-1L0.4,1M-1,-0.4L1,-0.4M-1,0.4L1,0.4","diamond","circle","M0,-1L0.55,0L0,1L-0.55,0Z","M-1,0L0,-0.55L1,0L0,0.55Z","triangle-down","triangle-left","M-1,-1L-1,1L1,1Z","M-1,-1L1,-1L-1,1Z","M-1,-1L1,-1L1,1Z"]}}}},
                {"data": {"values": [{}]}, "mark": {"type": "text", "fontSize": 20}, "encoding": {"x": {"datum": 3450}, "y": {"datum": 54.9}, "text": {"value": "(d)"}, "color": {"value": "#111111"}}}
              ]
            }
          ],
          "spacing": 22
        }
      ],
      "spacing": 19
    },
    {
      "width": 485, "height": 205,
      "data": {"name": "legend"},
      "encoding": {
        "x": {"field": "c", "type": "quantitative", "scale": {"domain": [0, 1], "range": [2, 240]}, "axis": null},
        "y": {"field": "r", "type": "quantitative", "scale": {"domain": [0, 8], "range": [12, 186]}, "axis": null},
        "color": {"field": "cat", "type": "nominal", "legend": null,
          "scale": {"domain": ["SiGeAu","SiGe","SiGeAuE","Si85Ge15","Si80Ge20","Si70Ge30","Si60Ge40","Si20Ge80","RTG","NanoO","NanoD","NanoF","FeSi2","SiC","Mg2Si","MoSi2","Si88FeSi2"],
            "range": ["#ee1c25","#1b1be8","#1f981f","#111111","#111111","#111111","#111111","#111111","#111111","#111111","#111111","#111111","#111111","#111111","#111111","#111111","#111111"]}}
      },
      "layer": [
        {"transform": [{"filter": "datum.sym == 1 && (datum.cat == 'SiGeAu' || datum.cat == 'SiGe' || datum.cat == 'SiGeAuE' || datum.cat == 'RTG')"}],
          "mark": {"type": "point", "filled": true, "opacity": 1, "size": 80},
          "encoding": {"shape": {"field": "cat", "type": "nominal", "legend": null,
            "scale": {"domain": ["SiGeAu","SiGe","SiGeAuE","Si85Ge15","Si80Ge20","Si70Ge30","Si60Ge40","Si20Ge80","RTG","NanoO","NanoD","NanoF","FeSi2","SiC","Mg2Si","MoSi2","Si88FeSi2"],
              "range": ["circle","square","triangle-up","M-1,-0.8L1,0.8L1,-0.8L-1,0.8Z","M-1,0L1,0M0,-1L0,1","M-0.5,-0.5L0.5,-0.5L0.5,0.5L-0.5,0.5Z M-0.5,-0.5L-1,-1 M0.5,-0.5L1,-1 M0.5,0.5L1,1 M-0.5,0.5L-1,1","M-1,-1L1,1M1,-1L-1,1","M-0.4,-1L-0.4,1M0.4,-1L0.4,1M-1,-0.4L1,-0.4M-1,0.4L1,0.4","diamond","circle","M0,-1L0.55,0L0,1L-0.55,0Z","M-1,0L0,-0.55L1,0L0,0.55Z","triangle-down","triangle-left","M-1,-1L-1,1L1,1Z","M-1,-1L1,-1L-1,1Z","M-1,-1L1,-1L1,1Z"]}}}},
        {"transform": [{"filter": "datum.sym == 1 && !(datum.cat == 'SiGeAu' || datum.cat == 'SiGe' || datum.cat == 'SiGeAuE' || datum.cat == 'RTG')"}],
          "mark": {"type": "point", "filled": false, "opacity": 1, "size": 75, "strokeWidth": 1.3},
          "encoding": {"shape": {"field": "cat", "type": "nominal", "legend": null,
            "scale": {"domain": ["SiGeAu","SiGe","SiGeAuE","Si85Ge15","Si80Ge20","Si70Ge30","Si60Ge40","Si20Ge80","RTG","NanoO","NanoD","NanoF","FeSi2","SiC","Mg2Si","MoSi2","Si88FeSi2"],
              "range": ["circle","square","triangle-up","M-1,-0.8L1,0.8L1,-0.8L-1,0.8Z","M-1,0L1,0M0,-1L0,1","M-0.5,-0.5L0.5,-0.5L0.5,0.5L-0.5,0.5Z M-0.5,-0.5L-1,-1 M0.5,-0.5L1,-1 M0.5,0.5L1,1 M-0.5,0.5L-1,1","M-1,-1L1,1M1,-1L-1,1","M-0.4,-1L-0.4,1M0.4,-1L0.4,1M-1,-0.4L1,-0.4M-1,0.4L1,0.4","diamond","circle","M0,-1L0.55,0L0,1L-0.55,0Z","M-1,0L0,-0.55L1,0L0,0.55Z","triangle-down","triangle-left","M-1,-1L-1,1L1,1Z","M-1,-1L1,-1L-1,1Z","M-1,-1L1,-1L1,1Z"]}}}},
        {"transform": [{"filter": "datum.c == 0"}], "mark": {"type": "text", "align": "left", "baseline": "middle", "dx": 25, "fontSize": 16}, "encoding": {"text": {"field": "text"}}},
        {"transform": [{"filter": "datum.c == 1"}], "mark": {"type": "text", "align": "left", "baseline": "middle", "dx": 20, "fontSize": 16}, "encoding": {"text": {"field": "text"}}}
      ]
    }
  ],
  "spacing": 15
}
